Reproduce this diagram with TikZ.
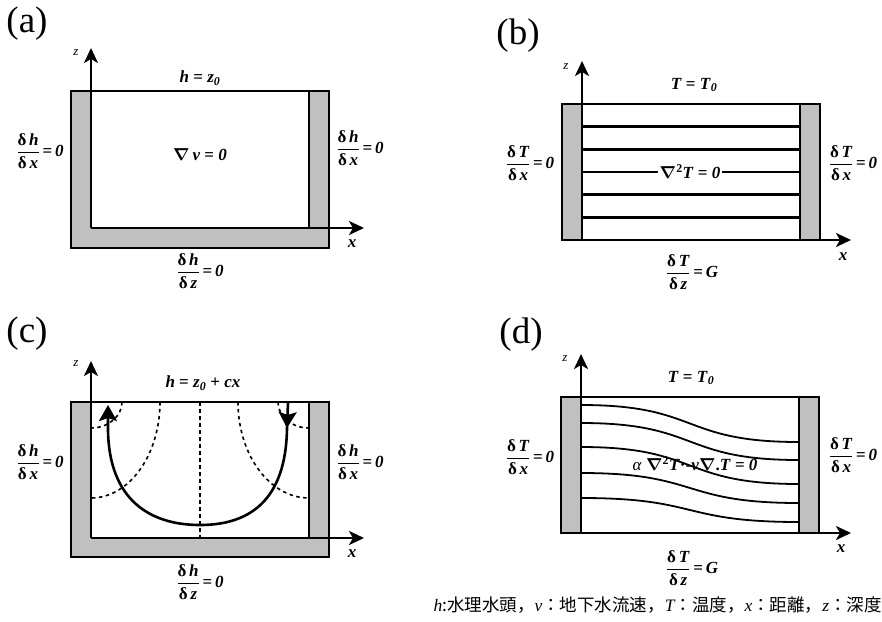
\documentclass[tikz,border=0pt]{standalone}
\usepackage{fontspec}
\setmainfont{Liberation Serif}
\newfontfamily\cjk{Noto Sans CJK JP}
\usetikzlibrary{arrows.meta,decorations.markings}
\definecolor{wallgray}{RGB}{192,192,192}
\newcommand{\bi}[1]{\textbf{\textit{#1}}}
\newcommand{\nab}{{\boldmath$\nabla$}}
\newcommand{\dfr}[2]{$\displaystyle\frac{\mbox{\bfseries δ\,\itshape #1}}{\mbox{\bfseries δ\,\itshape #2}}$}
\newcommand{\ltr}[1]{{\normalfont\itshape #1}}
\tikzset{
  box/.style={line width=2.8pt},
  wall/.style={fill=wallgray},
  ax/.style={line width=2.5pt,-{Stealth[length=15pt,width=14pt,inset=4pt]}},
  iso/.style={line width=2.6pt},
  tline/.style={line width=1.8pt},
  eqline/.style={line width=1.6pt,dash pattern=on 3.5pt off 3.5pt},
  flow/.style={line width=2.6pt},
  ftip/.style={},
  lbl/.style={font=\fontsize{17}{19}\selectfont, inner sep=1pt},
  zl/.style={font=\fontsize{13}{14}\selectfont\itshape, inner sep=0pt},
  xl/.style={font=\fontsize{17}{18}\selectfont\bfseries\itshape, inner sep=0pt},
  pan/.style={font=\fontsize{37}{39}\selectfont, inner sep=0pt},
}
\begin{document}
\begin{tikzpicture}[x=1pt,y=-1pt]
\useasboundingbox (0,0) rectangle (882,621);

%% ---------------- (a) ----------------
\node[pan] (pa) at (27,24) {(a)};
\fill[wall] (71,91) rectangle (329,248);
\fill[white] (91,91) rectangle (309,228);
\draw[box] (71,91) rectangle (329,248);
\draw[box] (309,91) -- (309,228);
\coordinate (oa) at (91,228);
\coordinate (za) at (91,48);
\coordinate (xa) at (364,228);
\draw[ax] (oa) -- (za);
\draw[ax] (oa) -- (xa);
\node[zl] (zla) at (76,53) {z};
\node[xl] (xla) at (352,244) {x};
\node[lbl] (ta) at (200,78) {\bi{h} \textbf{=} \bi{z}\textsubscript{\bi{0}}};
\node[lbl] (ea) at (200,155) {\nab\,\bi{v} \textbf{=} \bi{0}};
\node[lbl] (la) at (40,151) {\dfr{h}{x}\,\textbf{=}\,\bi{0}};
\node[lbl] (ra) at (360,148) {\dfr{h}{x}\,\textbf{=}\,\bi{0}};
\node[lbl] (ba) at (200,271) {\dfr{h}{z}\,\textbf{=}\,\bi{0}};

%% ---------------- (b) ----------------
\node[pan] (pb) at (518,36) {(b)};
\fill[wall] (562,104) rectangle (820,240);
\fill[white] (582,104) rectangle (800,240);
\draw[box] (562,104) rectangle (820,240);
\draw[box] (800,104) -- (800,240);
\foreach \yy in {126.7,149.3,172,194.7,217.3}
  \draw[iso] (582,\yy) -- (800,\yy);
\coordinate (ob) at (582,240);
\coordinate (zb) at (582,61);
\coordinate (xb) at (851,240);
\draw[ax] (ob) -- (zb);
\draw[ax] (ob) -- (xb);
\node[zl] (zlb) at (566,67) {z};
\node[xl] (xlb) at (843,257) {x};
\node[lbl] (tb) at (694,85) {\bi{T} \textbf{=} \bi{T}\textsubscript{\bi{0}}};
\node[lbl,fill=white,inner sep=2pt] (eb) at (690,172) {\nab\textsuperscript{\bfseries 2}\bi{T} \textbf{=} \bi{0}};
\node[lbl] (lb) at (530,163) {\dfr{T}{x}\,\textbf{=}\,\bi{0}};
\node[lbl] (rb) at (853,163) {\dfr{T}{x}\,\textbf{=}\,\bi{0}};
\node[lbl] (bb) at (692,272) {\dfr{T}{z}\,\textbf{=}\,\bi{G}};

%% ---------------- (c) ----------------
\node[pan] (pc) at (27,334) {(c)};
\fill[wall] (71,402) rectangle (329,557);
\fill[white] (91,402) rectangle (309,538);
% equipotential lines
\draw[eqline] (122,402) .. controls (122,416.4) and (108.1,428) .. (91,428);
\draw[eqline] (160,402) .. controls (160,455) and (129.1,498) .. (91,498);
\draw[eqline] (200,402) -- (200,538);
\draw[eqline] (238,402) .. controls (238,455) and (269.8,498) .. (309,498);
\draw[eqline] (278,402) .. controls (278,416.4) and (291.9,428) .. (309,428);
\draw[box] (71,402) rectangle (329,557);
\draw[box] (309,402) -- (309,538);
\coordinate (oc) at (91,538);
\coordinate (zc) at (91,361);
\coordinate (xc) at (364,538);
\draw[ax] (oc) -- (zc);
\draw[ax] (oc) -- (xc);
% streamline
\coordinate (fs) at (288,403);
\coordinate (fe) at (108,405);
\draw[flow,-{Stealth[length=16pt,width=18pt,inset=3pt]},
  decoration={markings,mark=at position 25pt with {\arrow{Stealth[length=16pt,width=18pt,inset=3pt]}}},
  postaction={decorate}]
  (fs) -- (287,428) .. controls (286,500) and (250,525) .. (200,525)
  .. controls (150,525) and (109,500) .. (108,430) -- (fe);
\node[zl] (zlc) at (76,364) {z};
\node[xl] (xlc) at (352,554) {x};
\node[lbl] (tc) at (203,383) {\bi{h} \textbf{=} \bi{z}\textsubscript{\bi{0}} \textbf{+} \bi{cx}};
\node[lbl] (lc) at (40,462) {\dfr{h}{x}\,\textbf{=}\,\bi{0}};
\node[lbl] (rc) at (360,462) {\dfr{h}{x}\,\textbf{=}\,\bi{0}};
\node[lbl] (bc) at (200,582) {\dfr{h}{z}\,\textbf{=}\,\bi{0}};

%% ---------------- (d) ----------------
\node[pan] (pd) at (521,335) {(d)};
\fill[wall] (561,397) rectangle (819,533);
\fill[white] (581,397) rectangle (799,533);
\foreach \ya/\yb in {405/442,423/460,447/484,473/503,498/522}
  \draw[tline] (581,\ya) .. controls (700,\ya) and (680,\yb) .. (799,\yb);
\draw[box] (561,397) rectangle (819,533);
\draw[box] (799,397) -- (799,533);
\coordinate (od) at (581,533);
\coordinate (zd) at (581,354);
\coordinate (xd) at (851,533);
\draw[ax] (od) -- (zd);
\draw[ax] (od) -- (xd);
\node[zl] (zld) at (565,359) {z};
\node[xl] (xld) at (841,549) {x};
\node[lbl] (td) at (691,378) {\bi{T} \textbf{=} \bi{T}\textsubscript{\bi{0}}};
\node[lbl] (ed) at (695,464) {\textit{α} \nab\textsuperscript{\bfseries 2}\bi{T}\textbf{·-}\bi{v}\nab\textbf{.}\bi{T} \textbf{=} \bi{0}};
\node[lbl] (ld) at (530,457) {\dfr{T}{x}\,\textbf{=}\,\bi{0}};
\node[lbl] (rd) at (853,455) {\dfr{T}{x}\,\textbf{=}\,\bi{0}};
\node[lbl] (bd) at (692,568) {\dfr{T}{z}\,\textbf{=}\,\bi{G}};

%% caption
\node[anchor=east, inner sep=0pt, font=\cjk\fontsize{17.5}{19}\selectfont] (cap) at (882,605)
  {\ltr{h}:水理水頭，\ltr{v}：地下水流速，\ltr{T}：温度，\ltr{x}：距離，\ltr{z}：深度};
\end{tikzpicture}
\end{document}
